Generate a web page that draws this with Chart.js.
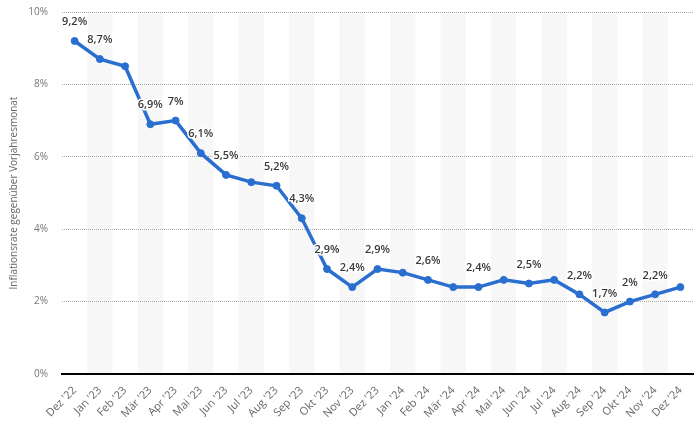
<!DOCTYPE html>
<html lang="de">
<head>
<meta charset="UTF-8">
<title>Inflationsrate</title>
<script src="https://cdn.jsdelivr.net/npm/chart.js"></script>
<style>
    html, body { margin: 0; padding: 0; background: #fff; }
    #wrap { width: 700px; height: 431px; }
</style>
</head>
<body>
<div id="wrap"><canvas id="chart"></canvas></div>
<script>
const months = ["Dez '22", "Jan '23", "Feb '23", "Mär '23", "Apr '23", "Mai '23", "Jun '23", "Jul '23",
    "Aug '23", "Sep '23", "Okt '23", "Nov '23", "Dez '23", "Jan '24", "Feb '24", "Mär '24", "Apr '24",
    "Mai '24", "Jun '24", "Jul '24", "Aug '24", "Sep '24", "Okt '24", "Nov '24", "Dez '24"];
const rates = [9.2, 8.7, 8.5, 6.9, 7.0, 6.1, 5.5, 5.3, 5.2, 4.3, 2.9, 2.4, 2.9, 2.8, 2.6, 2.4, 2.4,
    2.6, 2.5, 2.6, 2.2, 1.7, 2.0, 2.2, 2.4];
// which points carry a value label in the original
const showLabel = [1, 1, 0, 1, 1, 1, 1, 0, 1, 1, 1, 1, 1, 0, 1, 0, 1, 0, 1, 0, 1, 1, 1, 1, 0];
const yTicks = [0, 2, 4, 6, 8, 10];

const fmt = v => String(v).replace('.', ',') + '%';

// light grey band behind every second category
const stripes = {
    id: 'stripes',
    beforeDraw(chart) {
        const {ctx, chartArea, scales: {x}} = chart;
        const band = x.getPixelForTick(1) - x.getPixelForTick(0);
        ctx.save();
        ctx.fillStyle = '#f7f7f7';
        months.forEach((m, i) => {
            if (i % 2 === 1) {
                const cx = x.getPixelForTick(i);
                ctx.fillRect(cx - band / 2, chartArea.top, band, chartArea.bottom - chartArea.top);
            }
        });
        ctx.restore();
    }
};

const valueLabels = {
    id: 'valueLabels',
    afterDatasetsDraw(chart) {
        const {ctx} = chart;
        const meta = chart.getDatasetMeta(0);
        ctx.save();
        ctx.font = '600 11px "Open Sans"';
        ctx.textAlign = 'center';
        ctx.textBaseline = 'middle';
        ctx.lineWidth = 3;
        ctx.strokeStyle = '#fff';
        ctx.fillStyle = '#3a3a3a';
        meta.data.forEach((pt, i) => {
            if (!showLabel[i]) return;
            const t = fmt(rates[i]);
            ctx.strokeText(t, pt.x, pt.y - 19);
            ctx.fillText(t, pt.x, pt.y - 19);
        });
        ctx.restore();
    }
};

new Chart(document.getElementById('chart'), {
    type: 'line',
    data: {
        labels: months,
        datasets: [{
            data: rates,
            borderColor: '#2a6fd0',
            backgroundColor: '#2a6fd0',
            borderWidth: 3.5,
            pointRadius: 3.5,
            pointBorderWidth: 1,
            pointHoverRadius: 3.5,
            tension: 0
        }]
    },
    options: {
        responsive: true,
        maintainAspectRatio: false,
        animation: false,
        layout: { padding: { left: 4, right: 7, top: 0, bottom: 0 } },
        plugins: {
            legend: { display: false },
            tooltip: { enabled: false }
        },
        scales: {
            x: {
                offset: true,
                grid: { display: false },
                border: { display: true, color: '#000', width: 2 },
                ticks: {
                    minRotation: 45,
                    maxRotation: 45,
                    autoSkip: false,
                    color: '#666',
                    font: { family: '"Open Sans"', size: 11 },
                    padding: 2
                },
                afterFit(scale) { scale.height = 57; scale.paddingTop = 0; }
            },
            y: {
                min: 0,
                max: 10,
                afterBuildTicks(scale) { scale.ticks = yTicks.map(v => ({value: v})); },
                grid: { color: '#aaa', lineWidth: 1, drawTicks: false },
                border: { display: false, dash: [1, 1] },
                ticks: {
                    color: '#777',
                    padding: 14,
                    font: { family: '"Open Sans"', size: 10 },
                    callback: v => v + '%'
                },
                title: {
                    display: true,
                    text: 'Inflationsrate gegenüber Vorjahresmonat',
                    color: '#666',
                    font: { family: '"Open Sans"', size: 10 },
                    padding: { top: 4, bottom: 0 }
                },
                afterFit(scale) { scale.width = 58; scale.paddingTop = 12; }
            }
        }
    },
    plugins: [stripes, valueLabels]
});
</script>
</body>
</html>
